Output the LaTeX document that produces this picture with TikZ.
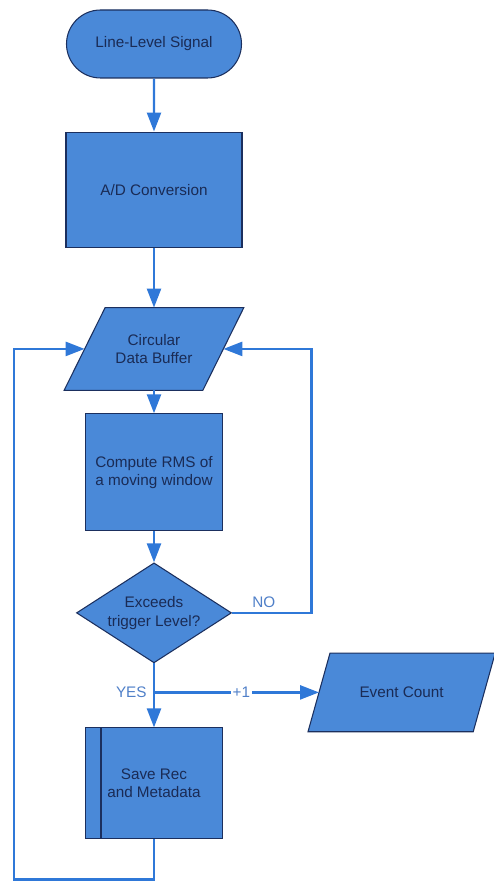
\documentclass[tikz,border=0pt]{standalone}
\usepackage{fontspec}
\setmainfont{Liberation Sans}
\usetikzlibrary{shapes.geometric,shapes.misc,arrows.meta,positioning,backgrounds}
\definecolor{boxfill}{HTML}{4A89D8}
\definecolor{boxedge}{HTML}{1B2F5E}
\definecolor{boxtext}{HTML}{1A2B55}
\definecolor{flowblue}{HTML}{2F78D8}
\definecolor{labelblue}{HTML}{4F7FC8}

\begin{document}
\begin{tikzpicture}[node distance=1cm and 0.6cm,
    every node/.style={font=\fontsize{8.7}{10.5}\selectfont},
    shapebox/.style={draw=boxedge, line width=0.6pt, fill=boxfill, text=boxtext, align=center, inner sep=0pt},
    procbox/.style={shapebox, rectangle},
    term/.style={shapebox, rounded rectangle, minimum width=3.5cm, minimum height=1.36cm},
    iobox/.style={rectangle, text=boxtext, align=center, inner sep=0pt},
    ioshape/.style={draw=boxedge, line width=0.6pt, fill=boxfill},
    decision/.style={shapebox, diamond, minimum width=3.1cm, minimum height=2cm, aspect=1.55},
    flow/.style={draw=flowblue, line width=1.4pt, -{Triangle[length=0.38cm, width=0.28cm]}},
    flowlabel/.style={text=labelblue, inner sep=2pt}]
    \useasboundingbox (0,0) rectangle (9.88,-17.68);

    \node[term] (start) at (3.08,-0.88) {Line-Level Signal};
    \node[procbox, minimum width=3.52cm, minimum height=2.3cm, below=1.06cm of start] (adc) {A/D Conversion};
    \node[iobox, minimum width=2.76cm, minimum height=1.64cm, below=1.2cm of adc] (buffer) {Circular\\Data Buffer};
    \node[procbox, minimum width=2.74cm, minimum height=2.34cm, below=0.46cm of buffer] (rms) {Compute RMS of\\a moving window};
    \node[decision, below=0.62cm of rms] (test) {Exceeds\\trigger Level?};
    \coordinate[below=0.58cm of test] (yes);
    \node[procbox, minimum width=2.74cm, minimum height=2.22cm, below=1.28cm of test] (save) {Save Rec\\and Metadata};
    \draw[draw=boxedge, line width=0.6pt] ([xshift=0.32cm]save.north west) -- ([xshift=0.32cm]save.south west);
    \node[iobox, minimum width=3.29cm, minimum height=1.56cm, right=3.3cm of yes] (count) {Event Count};

    % slanted data shapes behind the text
    \begin{scope}[on background layer]
        \draw[ioshape] ([xshift=0.41cm]buffer.north west) -- ([xshift=0.41cm]buffer.north east)
            -- ([xshift=-0.41cm]buffer.south east) -- ([xshift=-0.41cm]buffer.south west) -- cycle;
        \draw[ioshape] ([xshift=0.22cm]count.north west) -- ([xshift=0.22cm]count.north east)
            -- ([xshift=-0.22cm]count.south east) -- ([xshift=-0.22cm]count.south west) -- cycle;
    \end{scope}

    % loop corners
    \coordinate[right=1.76cm of buffer.east] (noturn);
    \coordinate[below=0.8cm of save.south] (savedown);
    \coordinate[left=2.8cm of savedown] (leftturn);

    \draw[flow] (start) -- (adc);
    \draw[flow] (adc) -- (buffer);
    \draw[flow] (buffer) -- (rms);
    \draw[flow] (rms) -- (test);
    \draw[flow] (test) -- (save);
    \draw[flow] (test.east) -| node[flowlabel, pos=0.2, above] {NO} (noturn) -- (buffer.east);
    \draw[flow] (yes) -- node[flowlabel, fill=white, pos=0.53, inner sep=1pt] {+1} (count.west);
    \node[flowlabel, left=2pt of yes] (yeslabel) {YES};
    \draw[flow] (save.south) -- (savedown) -- (leftturn) |- (buffer.west);
\end{tikzpicture}
\end{document}
